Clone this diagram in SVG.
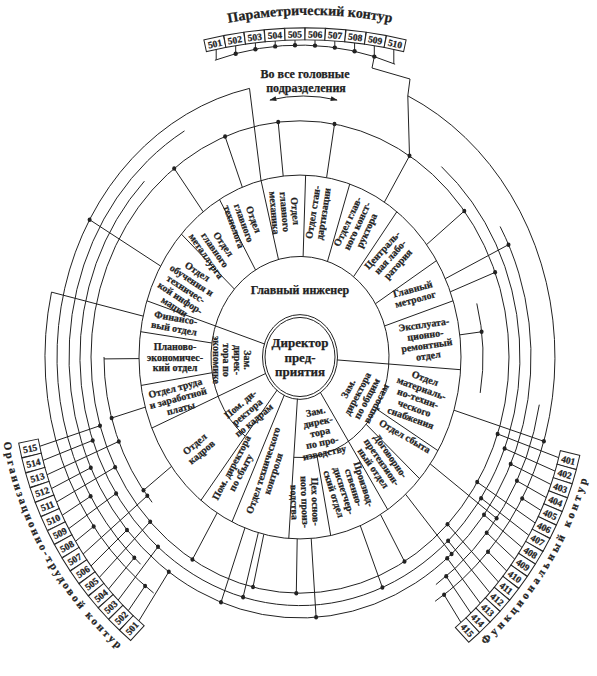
<svg xmlns="http://www.w3.org/2000/svg" width="597" height="676" viewBox="0 0 597 676">
<defs>
<marker id="ah" viewBox="0 0 10 10" refX="9" refY="5" markerWidth="9" markerHeight="7" orient="auto-start-reverse" markerUnits="userSpaceOnUse"><path d="M0 1.5 L10 5 L0 8.5 z" fill="#222"/></marker>
</defs>
<style>
.l{fill:none;stroke:#222;stroke-width:1;vector-effect:non-scaling-stroke}
.bx{fill:#fff;stroke:#222;stroke-width:1}
text{font-family:"Liberation Serif","DejaVu Serif",serif;font-weight:bold;fill:#222;stroke:#222;stroke-width:0.25}
.t{font-size:10px;text-anchor:middle}
.n{font-size:9.5px;text-anchor:middle}
.c{font-size:11px;letter-spacing:2.4px}
.d{fill:#222}
</style>
<rect width="597" height="676" fill="#fff"/>
<g id="connectors" transform="translate(300,357) scale(1,1.13)">
<circle class="l" r="209"/>
<path class="l" d="M 141.4 -168.5 A 220 220 0 1 1 -155.6 -155.6"/>
<path class="l" d="M 200.1 -115.5 A 231 231 0 1 1 -115.5 -200.1"/>
<path class="l" d="M -159.4 183.4 A 243 243 0 0 1 -50.5 -237.7"/>
<path class="l" d="M -146.3 208.9 A 255 255 0 0 1 -248.5 -57.4"/>
<path class="l" d="M -147.9 128.6 A 196 196 0 0 1 -196 0"/>
<path class="l" d="M 239.3 42.2 A 243 243 0 0 1 135.9 201.4"/>
<path class="l" d="M 107.8 -231.1 A 255 255 0 0 1 135.1 216.2"/>
<path class="l" d="M 176.8 -47.4 A 183 183 0 0 1 180.2 31.8"/>
<path class="l" d="M -85.1 -262.6 A 276 276 0 0 1 95.1 -259.1"/>
<path class="l" d="M -96.9 -128.6 L -125.8 -166.9 M -57.7 -150.3 L -74.9 -195.1 M -16.8 -160.1 L -21.8 -207.9 M 26.6 -158.8 L 34.5 -206.1 M 84.4 -137.1 L 109.5 -178 M 126.6 -99.5 L 164.3 -129.2 M 150.3 -57.7 L 195.1 -74.9 M 145.3 -69.3 L 208.5 -99.4"/>
<path class="l" d="M 159.8 -19.6 L 181.6 -22.3 M 154 47.1 L 243.9 74.6 M 130.2 94.6 L 196.6 142.8 M 105.6 121.5 L 151.6 174.3 M 80.5 139.4 L 104.5 181 M 60.3 149.3 L 82.4 204 M 11.2 160.6 L 16.1 230.4 M -2.8 161 L -3.7 209 M -36.2 156.9 L -47 203.6 M -41.7 155.5 L -56.9 212.5 M -55.1 151.3 L -79 217.1 M -82.9 138 L -107.6 179.2 M -128.6 96.9 L -156.5 118 M -154.8 44.4 L -188.4 54 M -161 1.4 L -196 1.7 M -156.9 -36.2 L -248.5 -57.4 M -139.4 -80.5 L -210.4 -121.5"/>
<path class="l" d="M -260.2 79 L -200 60.8 M -256.9 91.5 L -207.3 73.8 M -252.9 104.2 L -181.2 74.7 M -248.5 116.4 L -209.2 98 M -243.4 128.3 L -184.9 97.5 M -237.7 140 L -209.4 123.3 M -231.3 151.9 L -183.9 120.8 M -224.5 163.1 L -206.3 149.9 M -216.9 174.4 L -152.7 122.8 M -209 184.9 L -173 153.1 M -200.7 195.1 L -149.8 145.7 M -191.5 205.4 L -165.7 177.7 M -181.8 215.1 L -142 168 M -171.7 224.5 L -154.9 202.6 M -161.1 233.5 L -131.2 190.1"/>
<path class="l" d="M 258.7 89.1 L 197.6 68.1 M 255.1 101 L 204.6 81 M 250.9 112.8 L 210.7 94.7 M 246.2 124.4 L 216.9 109.6 M 241 135.8 L 222.2 125.2 M 235.2 146.9 L 177.2 110.7 M 228.8 157.8 L 181.1 124.9 M 222.1 168.6 L 184 139.7 M 214.7 178.9 L 186.7 155.5 M 206.7 189.4 L 188 172.3 M 198.5 199.2 L 147.5 148 M 189.8 208.6 L 148.1 162.7 M 180.3 218 L 147.2 178 M 170.8 226.6 L 146.2 194.1 M 160.9 234.9 L 144.1 210.4"/>
<g class="d">
<circle r="2" cx="-125.8" cy="-166.9"/><circle r="2" cx="-74.9" cy="-195.1"/><circle r="2" cx="-21.8" cy="-207.9"/><circle r="2" cx="34.5" cy="-206.1"/><circle r="2" cx="109.5" cy="-178"/><circle r="2" cx="164.3" cy="-129.2"/><circle r="2" cx="195.1" cy="-74.9"/><circle r="2" cx="208.5" cy="-99.4"/>
<circle r="2" cx="181.6" cy="-22.3"/><circle r="2" cx="243.9" cy="74.6"/><circle r="2" cx="196.6" cy="142.8"/><circle r="2" cx="151.6" cy="174.3"/><circle r="2" cx="104.5" cy="181"/><circle r="2" cx="82.4" cy="204"/><circle r="2" cx="16.1" cy="230.4"/><circle r="2" cx="-3.7" cy="209"/><circle r="2" cx="-47" cy="203.6"/><circle r="2" cx="-56.9" cy="212.5"/><circle r="2" cx="-79" cy="217.1"/><circle r="2" cx="-107.6" cy="179.2"/><circle r="2" cx="-156.5" cy="118"/><circle r="2" cx="-188.4" cy="54"/><circle r="2" cx="-210.4" cy="-121.5"/>
<circle r="2" cx="-200" cy="60.8"/><circle r="2" cx="-207.3" cy="73.8"/><circle r="2" cx="-181.2" cy="74.7"/><circle r="2" cx="-209.2" cy="98"/><circle r="2" cx="-184.9" cy="97.5"/><circle r="2" cx="-209.4" cy="123.3"/><circle r="2" cx="-183.9" cy="120.8"/><circle r="2" cx="-206.3" cy="149.9"/><circle r="2" cx="-152.7" cy="122.8"/><circle r="2" cx="-173" cy="153.1"/><circle r="2" cx="-149.8" cy="145.7"/><circle r="2" cx="-165.7" cy="177.7"/><circle r="2" cx="-142" cy="168"/><circle r="2" cx="-154.9" cy="202.6"/><circle r="2" cx="-131.2" cy="190.1"/>
<circle r="2" cx="197.6" cy="68.1"/><circle r="2" cx="204.6" cy="81"/><circle r="2" cx="210.7" cy="94.7"/><circle r="2" cx="216.9" cy="109.6"/><circle r="2" cx="222.2" cy="125.2"/><circle r="2" cx="177.2" cy="110.7"/><circle r="2" cx="181.1" cy="124.9"/><circle r="2" cx="184" cy="139.7"/><circle r="2" cx="186.7" cy="155.5"/><circle r="2" cx="188" cy="172.3"/><circle r="2" cx="147.5" cy="148"/><circle r="2" cx="148.1" cy="162.7"/><circle r="2" cx="147.2" cy="178"/><circle r="2" cx="146.2" cy="194.1"/><circle r="2" cx="144.1" cy="210.4"/>
</g>
</g>
<g id="top-connectors">
<path class="l" d="M 216.2 49.5 V 59.8 M 235.7 45.7 V 53.7 M 255.4 42.9 V 49.2 M 275.2 41.1 V 46.4 M 295 40.1 V 45.2 M 315 40.1 V 45.6 M 334.8 41.1 V 47.6 M 354.6 42.9 V 51.3 M 374.3 45.7 V 56.6 M 393.8 49.5 V 63.7"/>
<path class="l" d="M 374.3 56.6 L 372 68 L 410 79 L 407.8 95.9 L 409.5 156 M 249.5 88.4 L 261 180.5"/>
<g class="d"><circle r="2.2" cx="235.7" cy="53.7"/><circle r="2.2" cx="255.4" cy="49.2"/><circle r="2.2" cx="275.2" cy="46.4"/><circle r="2.2" cx="295" cy="45.2"/><circle r="2.2" cx="315" cy="45.6"/><circle r="2.2" cx="334.8" cy="47.6"/><circle r="2.2" cx="354.6" cy="51.3"/><circle r="2.2" cx="374.3" cy="56.6"/></g>
<path d="M 270 100 Q 303 92 337 100" fill="none" stroke="#222" stroke-width="1" marker-start="url(#ah)" marker-end="url(#ah)"/>
</g>
<g id="rings" transform="translate(300,357) scale(1,1.13)">
<circle class="l" r="37.5" fill="#fff"/>
<circle class="l" r="35"/>
<circle class="l" r="161"/>
<path class="l" d="M -54.80 70.13 A 89 89 0 1 1 -6.21 88.79"/>
<path class="l" d="M -35.19 -11.43 L -153.1 -49.75 M 36.91 2.58 L 160.6 11.23 M 20.15 31.03 L 87.68 135 M -2.58 36.91 L -11.23 160.6 M -22.78 29.16 L -99.12 126.9 M -34.06 14.46 L -148.2 62.9 M -15.64 33.53 L -68.04 145.9"/>
<path class="l" d="M -65.62 -60.13 L -118.7 -108.8 M -44.5 -77.07 L -80.5 -139.4 M -21.53 -86.36 L -38.95 -156.2 M 3.11 -88.95 L 5.62 -160.9 M 27.5 -84.65 L 49.75 -153.1 M 53.56 -71.08 L 96.89 -128.6 M 75.47 -47.16 L 136.5 -85.31 M 84.65 -27.5 L 153.1 -49.75 M 76.29 45.84 L 138 82.92 M 66.14 59.55 L 119.6 107.7 M 16.98 87.36 L 30.72 158 M -87.9 13.92 L -159 25.18 M -88.14 -12.39 L -159.4 -22.41"/>
</g>
<g id="director">
<text class="t" style="font-size:13px" transform="translate(300,357)"><tspan x="0" y="-10">Директор</tspan><tspan x="0" y="4.5">пред-</tspan><tspan x="0" y="19">приятия</tspan></text>
</g>
<g id="chief-engineer"><text class="t" style="font-size:12px" x="300" y="294">Главный инженер</text></g>
<g id="dep-econ"><text class="t" transform="translate(232,360) rotate(90)"><tspan x="0" y="-12.25">Зам.</tspan><tspan x="0" y="-1.75">дирек-</tspan><tspan x="0" y="8.75">тора по</tspan><tspan x="0" y="19.25">экономике</tspan></text></g>
<g id="dep-staff"><text class="t" transform="translate(247,412) rotate(-40)"><tspan x="0" y="-7">Пом. ди-</tspan><tspan x="0" y="3.5">ректора</tspan><tspan x="0" y="14">по кадрам</tspan></text></g>
<g id="dep-prod"><text class="t" transform="translate(320,432) rotate(-12)"><tspan x="0" y="-17.5">Зам.</tspan><tspan x="0" y="-7">дирек-</tspan><tspan x="0" y="3.5">тора</tspan><tspan x="0" y="14">по про-</tspan><tspan x="0" y="24.5">изводству</tspan></text></g>
<g id="dep-general"><text class="t" transform="translate(362,396) rotate(-62)"><tspan x="0" y="-12.25">Зам.</tspan><tspan x="0" y="-1.75">директора</tspan><tspan x="0" y="8.75">по общим</tspan><tspan x="0" y="19.25">вопросам</tspan></text></g>
<g id="d-training"><text class="t" transform="translate(186,289) rotate(33)"><tspan x="0" y="-17.5">Отдел</tspan><tspan x="0" y="-7">обучения и</tspan><tspan x="0" y="3.5">техничес-</tspan><tspan x="0" y="14">кой инфор-</tspan><tspan x="0" y="24.5">мации</tspan></text></g>
<g id="d-metallurg"><text class="t" transform="translate(215,250) rotate(55)"><tspan x="0" y="-7">Отдел</tspan><tspan x="0" y="3.5">главного</tspan><tspan x="0" y="14">металлурга</tspan></text></g>
<g id="d-technolog"><text class="t" transform="translate(244,223) rotate(70)"><tspan x="0" y="-7">Отдел</tspan><tspan x="0" y="3.5">главного</tspan><tspan x="0" y="14">технолога</tspan></text></g>
<g id="d-mechanic"><text class="t" transform="translate(285,212) rotate(85)"><tspan x="0" y="-7">Отдел</tspan><tspan x="0" y="3.5">главного</tspan><tspan x="0" y="14">механика</tspan></text></g>
<g id="d-standard"><text class="t" transform="translate(318,213) rotate(-81)"><tspan x="0" y="-1.75">Отдел стан-</tspan><tspan x="0" y="8.75">дартизации</tspan></text></g>
<g id="d-designer"><text class="t" transform="translate(357,226) rotate(-65)"><tspan x="0" y="-7">Отдел глав-</tspan><tspan x="0" y="3.5">ного конст-</tspan><tspan x="0" y="14">руктора</tspan></text></g>
<g id="d-lab"><text class="t" transform="translate(390,257) rotate(-48)"><tspan x="0" y="-7">Централь-</tspan><tspan x="0" y="3.5">ная лабо-</tspan><tspan x="0" y="14">ратория</tspan></text></g>
<g id="d-metrolog"><text class="t" transform="translate(414,294) rotate(-15)"><tspan x="0" y="-1.75">Главный</tspan><tspan x="0" y="8.75">метролог</tspan></text></g>
<g id="d-repair"><text class="t" transform="translate(426,340) rotate(-8)"><tspan x="0" y="-12.25">Эксплуата-</tspan><tspan x="0" y="-1.75">ционно-</tspan><tspan x="0" y="8.75">ремонтный</tspan><tspan x="0" y="19.25">отдел</tspan></text></g>
<g id="d-supply"><text class="t" transform="translate(418,398) rotate(20)"><tspan x="0" y="-17.5">Отдел</tspan><tspan x="0" y="-7">материаль-</tspan><tspan x="0" y="3.5">но-техни-</tspan><tspan x="0" y="14">ческого</tspan><tspan x="0" y="24.5">снабжения</tspan></text></g>
<g id="d-sales"><text class="t" transform="translate(405,436) rotate(30)"><tspan x="0" y="3.5">Отдел сбыта</tspan></text></g>
<g id="d-contract"><text class="t" transform="translate(382,462) rotate(55)"><tspan x="0" y="-7">Договорно-</tspan><tspan x="0" y="3.5">претензион-</tspan><tspan x="0" y="14">ный отдел</tspan></text></g>
<g id="d-dispatch"><text class="t" transform="translate(349,489) rotate(72)"><tspan x="0" y="-12.25">Производ-</tspan><tspan x="0" y="-1.75">ственно-</tspan><tspan x="0" y="8.75">диспетчер-</tspan><tspan x="0" y="19.25">ский отдел</tspan></text></g>
<g id="d-shop"><text class="t" transform="translate(305,502) rotate(88)"><tspan x="0" y="-7">Цех основ-</tspan><tspan x="0" y="3.5">ного произ-</tspan><tspan x="0" y="14">водства</tspan></text></g>
<g id="d-qc"><text class="t" transform="translate(268,472) rotate(-72)"><tspan x="0" y="-1.75">Отдел технического</tspan><tspan x="0" y="8.75">контроля</tspan></text></g>
<g id="d-salesasst"><text class="t" transform="translate(236,470) rotate(-62)"><tspan x="0" y="-1.75">Пом. директора</tspan><tspan x="0" y="8.75">по сбыту</tspan></text></g>
<g id="d-hr"><text class="t" transform="translate(198,448) rotate(-40)"><tspan x="0" y="-1.75">Отдел</tspan><tspan x="0" y="8.75">кадров</tspan></text></g>
<g id="d-labour"><text class="t" transform="translate(178,398) rotate(-15)"><tspan x="0" y="-7">Отдел труда</tspan><tspan x="0" y="3.5">и заработной</tspan><tspan x="0" y="14">платы</tspan></text></g>
<g id="d-plan"><text class="t" transform="translate(175,357)"><tspan x="0" y="-7">Планово-</tspan><tspan x="0" y="3.5">экономичес-</tspan><tspan x="0" y="14">кий отдел</tspan></text></g>
<g id="d-finance"><text class="t" transform="translate(175,323) rotate(10)"><tspan x="0" y="-1.75">Финансо-</tspan><tspan x="0" y="8.75">вый отдел</tspan></text></g>
<g id="param-boxes">
<g transform="translate(305,462) rotate(-12.15)"><rect class="bx" x="-10" y="-434" width="20" height="12"/><text class="n" y="-424.5">501</text></g>
<g transform="translate(305,462) rotate(-9.45)"><rect class="bx" x="-10" y="-434" width="20" height="12"/><text class="n" y="-424.5">502</text></g>
<g transform="translate(305,462) rotate(-6.75)"><rect class="bx" x="-10" y="-434" width="20" height="12"/><text class="n" y="-424.5">503</text></g>
<g transform="translate(305,462) rotate(-4.05)"><rect class="bx" x="-10" y="-434" width="20" height="12"/><text class="n" y="-424.5">504</text></g>
<g transform="translate(305,462) rotate(-1.35)"><rect class="bx" x="-10" y="-434" width="20" height="12"/><text class="n" y="-424.5">505</text></g>
<g transform="translate(305,462) rotate(1.35)"><rect class="bx" x="-10" y="-434" width="20" height="12"/><text class="n" y="-424.5">506</text></g>
<g transform="translate(305,462) rotate(4.05)"><rect class="bx" x="-10" y="-434" width="20" height="12"/><text class="n" y="-424.5">507</text></g>
<g transform="translate(305,462) rotate(6.75)"><rect class="bx" x="-10" y="-434" width="20" height="12"/><text class="n" y="-424.5">508</text></g>
<g transform="translate(305,462) rotate(9.45)"><rect class="bx" x="-10" y="-434" width="20" height="12"/><text class="n" y="-424.5">509</text></g>
<g transform="translate(305,462) rotate(12.15)"><rect class="bx" x="-10" y="-434" width="20" height="12"/><text class="n" y="-424.5">510</text></g>
</g>
<g id="org-boxes">
<g transform="translate(360,380) rotate(168.3) translate(337,0) rotate(180)"><rect class="bx" x="-10" y="-7.5" width="20" height="15"/><text class="n" y="3.5">515</text></g>
<g transform="translate(360,380) rotate(165.75) translate(337,0) rotate(180)"><rect class="bx" x="-10" y="-7.5" width="20" height="15"/><text class="n" y="3.5">514</text></g>
<g transform="translate(360,380) rotate(163.2) translate(337,0) rotate(180)"><rect class="bx" x="-10" y="-7.5" width="20" height="15"/><text class="n" y="3.5">513</text></g>
<g transform="translate(360,380) rotate(160.65) translate(337,0) rotate(180)"><rect class="bx" x="-10" y="-7.5" width="20" height="15"/><text class="n" y="3.5">512</text></g>
<g transform="translate(360,380) rotate(158.1) translate(337,0) rotate(180)"><rect class="bx" x="-10" y="-7.5" width="20" height="15"/><text class="n" y="3.5">511</text></g>
<g transform="translate(360,380) rotate(155.55) translate(337,0) rotate(180)"><rect class="bx" x="-10" y="-7.5" width="20" height="15"/><text class="n" y="3.5">510</text></g>
<g transform="translate(360,380) rotate(153) translate(337,0) rotate(180)"><rect class="bx" x="-10" y="-7.5" width="20" height="15"/><text class="n" y="3.5">509</text></g>
<g transform="translate(360,380) rotate(150.45) translate(337,0) rotate(180)"><rect class="bx" x="-10" y="-7.5" width="20" height="15"/><text class="n" y="3.5">508</text></g>
<g transform="translate(360,380) rotate(147.9) translate(337,0) rotate(180)"><rect class="bx" x="-10" y="-7.5" width="20" height="15"/><text class="n" y="3.5">507</text></g>
<g transform="translate(360,380) rotate(145.35) translate(337,0) rotate(180)"><rect class="bx" x="-10" y="-7.5" width="20" height="15"/><text class="n" y="3.5">506</text></g>
<g transform="translate(360,380) rotate(142.8) translate(337,0) rotate(180)"><rect class="bx" x="-10" y="-7.5" width="20" height="15"/><text class="n" y="3.5">505</text></g>
<g transform="translate(360,380) rotate(140.25) translate(337,0) rotate(180)"><rect class="bx" x="-10" y="-7.5" width="20" height="15"/><text class="n" y="3.5">504</text></g>
<g transform="translate(360,380) rotate(137.7) translate(337,0) rotate(180)"><rect class="bx" x="-10" y="-7.5" width="20" height="15"/><text class="n" y="3.5">503</text></g>
<g transform="translate(360,380) rotate(135.15) translate(337,0) rotate(180)"><rect class="bx" x="-10" y="-7.5" width="20" height="15"/><text class="n" y="3.5">502</text></g>
<g transform="translate(360,380) rotate(132.6) translate(337,0) rotate(180)"><rect class="bx" x="-10" y="-7.5" width="20" height="15"/><text class="n" y="3.5">501</text></g>
</g>
<g id="func-boxes">
<g transform="translate(240,380) rotate(13.7) translate(338,0)"><rect class="bx" x="-10" y="-7.2" width="20" height="14.4"/><text class="n" y="3.5">401</text></g>
<g transform="translate(240,380) rotate(16.13) translate(338,0)"><rect class="bx" x="-10" y="-7.2" width="20" height="14.4"/><text class="n" y="3.5">402</text></g>
<g transform="translate(240,380) rotate(18.56) translate(338,0)"><rect class="bx" x="-10" y="-7.2" width="20" height="14.4"/><text class="n" y="3.5">403</text></g>
<g transform="translate(240,380) rotate(20.99) translate(338,0)"><rect class="bx" x="-10" y="-7.2" width="20" height="14.4"/><text class="n" y="3.5">404</text></g>
<g transform="translate(240,380) rotate(23.42) translate(338,0)"><rect class="bx" x="-10" y="-7.2" width="20" height="14.4"/><text class="n" y="3.5">405</text></g>
<g transform="translate(240,380) rotate(25.85) translate(338,0)"><rect class="bx" x="-10" y="-7.2" width="20" height="14.4"/><text class="n" y="3.5">406</text></g>
<g transform="translate(240,380) rotate(28.28) translate(338,0)"><rect class="bx" x="-10" y="-7.2" width="20" height="14.4"/><text class="n" y="3.5">407</text></g>
<g transform="translate(240,380) rotate(30.71) translate(338,0)"><rect class="bx" x="-10" y="-7.2" width="20" height="14.4"/><text class="n" y="3.5">408</text></g>
<g transform="translate(240,380) rotate(33.14) translate(338,0)"><rect class="bx" x="-10" y="-7.2" width="20" height="14.4"/><text class="n" y="3.5">409</text></g>
<g transform="translate(240,380) rotate(35.57) translate(338,0)"><rect class="bx" x="-10" y="-7.2" width="20" height="14.4"/><text class="n" y="3.5">410</text></g>
<g transform="translate(240,380) rotate(38) translate(338,0)"><rect class="bx" x="-10" y="-7.2" width="20" height="14.4"/><text class="n" y="3.5">411</text></g>
<g transform="translate(240,380) rotate(40.43) translate(338,0)"><rect class="bx" x="-10" y="-7.2" width="20" height="14.4"/><text class="n" y="3.5">412</text></g>
<g transform="translate(240,380) rotate(42.86) translate(338,0)"><rect class="bx" x="-10" y="-7.2" width="20" height="14.4"/><text class="n" y="3.5">413</text></g>
<g transform="translate(240,380) rotate(45.29) translate(338,0)"><rect class="bx" x="-10" y="-7.2" width="20" height="14.4"/><text class="n" y="3.5">414</text></g>
<g transform="translate(240,380) rotate(47.72) translate(338,0)"><rect class="bx" x="-10" y="-7.2" width="20" height="14.4"/><text class="n" y="3.5">415</text></g>
</g>
<g id="labels">
<path id="pc" d="M 190 31.8 A 436 436 0 0 1 430 31.8" fill="none"/>
<text style="font-size:14px"><textPath href="#pc" startOffset="50%" text-anchor="middle">Параметрический контур</textPath></text>
<path id="oc" d="M 2.5 436.6 A 362 362 0 0 0 152.4 676.5" fill="none"/>
<text class="c"><textPath href="#oc" startOffset="6">Организационно-трудовой контур</textPath></text>
<path id="fc" d="M 481.6 648.3 A 361 361 0 0 0 593.1 455.1" fill="none"/>
<text class="c" style="letter-spacing:3.4px"><textPath href="#fc" startOffset="5">Функциональный контур</textPath></text>
<text class="t" style="font-size:12px" x="305" y="78">Во все головные</text>
<text class="t" style="font-size:12px" x="306" y="92">подразделения</text>
</g>
</svg>
